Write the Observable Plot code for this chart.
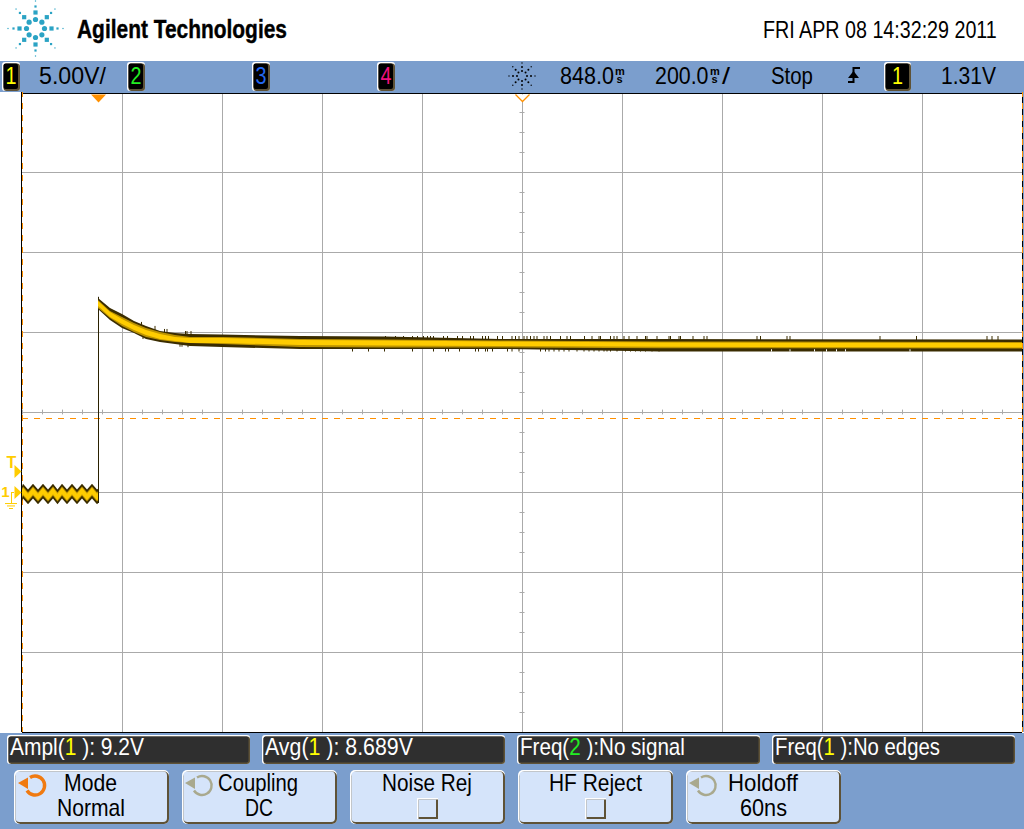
<!DOCTYPE html>
<html><head><meta charset="utf-8">
<script src="https://cdn.jsdelivr.net/npm/d3@7"></script>
<script src="https://cdn.jsdelivr.net/npm/@observablehq/plot@0.6"></script>
<style>
html,body{margin:0;padding:0;background:#fff;overflow:hidden}
svg{display:block}
</style></head><body>
<div id="head"></div><div id="plot"></div><div id="foot"></div>
<script>
// ---- scope settings (ms, V)
const timeDomain = [-152, 1848];
const voltDomain = [-15, 25];
const timeGrid = [-152, 48, 248, 448, 648, 848, 1048, 1248, 1448, 1648, 1848];
const voltGrid = [-15, -10, -5, 0, 5, 10, 15, 20, 25];
const triggerTime = 0, delayTime = 848, triggerLevel = 1.31, cursorLevel = 4.625;

// ---- trace envelope (ms, V)
const traceT    = [0, 24, 48, 72, 96, 124, 154, 184, 248, 404, 574, 804, 1124, 1848];
const darkHi    = [12.13, 11.5, 11.13, 10.69, 10.38, 10.06, 9.94, 9.88, 9.84, 9.75, 9.72, 9.56, 9.56, 9.53];
const darkLo    = [11.44, 10.75, 10.25, 9.94, 9.56, 9.38, 9.25, 9.13, 9.06, 8.94, 8.94, 8.94, 8.78, 8.78];
const goldHi    = [12.0, 11.31, 10.94, 10.56, 10.25, 10.0, 9.81, 9.69, 9.69, 9.56, 9.53, 9.47, 9.41, 9.38];
const goldLo    = [11.5, 10.88, 10.38, 10.0, 9.69, 9.5, 9.38, 9.31, 9.25, 9.06, 9.03, 9.03, 8.98, 8.97];
const brightHi  = [11.94, 11.25, 10.81, 10.44, 10.13, 9.88, 9.69, 9.63, 9.63, 9.5, 9.47, 9.41, 9.34, 9.31];
const brightLo  = [11.63, 10.94, 10.5, 10.13, 9.81, 9.56, 9.44, 9.31, 9.31, 9.19, 9.16, 9.13, 9.08, 9.03];

// ---- pre-trigger ripple
const rippleT = [-152,-150,-140,-130,-120,-110,-100,-90,-81,-72,-62,-52,-42,-32,-22,-12,-2,0];
const rippleV = [-0.1,0.06,-0.31,0.06,-0.31,0.06,-0.31,0.06,-0.31,0.06,-0.31,0.06,-0.31,0.06,-0.31,0.06,-0.31,-0.25];

// ---- glitches sticking out of the trace
const upperTicks = [340,574,594,610,628,638,650,658,664,670,690,698,718,728,744,750,768,774,780,798,808,
  827,834,841,851,857,864,871,877,891,897,904,924,937,944,972,987,1001,1004,1024,1031,1037,1051,1061,1077,1094,1097,1117,1141,1144,1161,1164,1189,1211,1217,1317,1324,
  1377,1383,1563,1636,1777,1787,1799];
const lowerTicks = [508,540,572,628,670,694,700,722,754,760,774,778,788,818,
  827,841,884,894,901,911,921,931,941,957,971,981,991,1001,1011,1017,1024,1037,1054,1064,1074,1084,1094,1107,1121];
const earlyT   = [86, 113, 132, 137, 174, 177, 185, 89, 163, 167, 179];
const earlyTop = [10.63, 10.38, 10.19, 10.19, 10.06, 10.06, 10.06, 9.7, 9.25, 9.25, 9.2];
const earlyBot = [10.3, 10.1, 9.9, 9.9, 9.8, 9.8, 9.8, 9.56, 9.08, 9.08, 9.05];
const lowerGaps = [1346,1383,1432,1456,1476,1494,1623];

// ---- labels
const dateText = "FRI APR 08 14:32:29 2011";
const brandText = "Agilent Technologies";
const channelChips = [["1","#ffff00",2],["2","#22ee22",127],["3","#2468f2",252],["4","#f0107f",377]];
const softKeys = [
  ["Mode","Normal",14,"dial-on"],["Coupling","DC",182,"dial"],["Noise Rej","",350,"box"],
  ["HF Reject","",518,"box"],["Holdoff","60ns",686,"dial"]];
const softKeySpans = {"Mode":[64,117],"Normal":[57,125],"Coupling":[218,298],"DC":[245,273],"Noise Rej":[382,472],"HF Reject":[549,642],"Holdoff":[728,798],"60ns":[740,787]};
const measures = [
  ["Ampl(","1","#ffff00"," ): 9.2V",7,10,144],
  ["Avg(","1","#ffff00"," ): 8.689V",262,265,413],
  ["Freq(","2","#22ee22"," ):No signal",517,520,685],
  ["Freq(","1","#ffff00"," ):No edges",772,775,940]];

// ---- colours
const blue="#7b9ecd", dark="#3a2c00", gold="#bd9400", bright="#ffcc00", orange="#ff9000", grid="#aaaaaa";
const olive="#5e5237", keyFill="#d5e4fa";
const FONT="'Liberation Sans',Arial,sans-serif";

const rows = traceT.map((t,i)=>({t,darkHi:darkHi[i],darkLo:darkLo[i],goldHi:goldHi[i],goldLo:goldLo[i],brightHi:brightHi[i],brightLo:brightLo[i]}));
const ripple = rippleT.map((t,i)=>({t,v:rippleV[i]}));
const early = earlyT.map((t,i)=>({t,a:earlyTop[i],b:earlyBot[i]}));
const k = v => () => v;

// marker shapes: the scope's own pointers
const pointerRight = {draw(c){c.moveTo(-7,-6.5);c.lineTo(0,0);c.lineTo(-7,6.5);c.closePath();}};
const pointerDown  = {draw(c){c.moveTo(-7.5,0);c.lineTo(0,8);c.lineTo(7.5,0);c.closePath();}};
const chevronDown  = {draw(c){c.moveTo(-7,0);c.lineTo(0,7);c.lineTo(7,0);}};

const chart = Plot.plot({
  width:1024, height:641,
  marginLeft:22, marginRight:2, marginTop:0, marginBottom:1,
  x:{domain:timeDomain, axis:null},
  y:{domain:voltDomain, axis:null},
  style:{background:"#fff", overflow:"visible", display:"block"},
  marks:[
    Plot.ruleX(timeGrid.slice(1,-1),{stroke:grid}),
    Plot.ruleY(voltGrid.slice(1,-1),{stroke:grid}),
    Plot.ruleX(d3.range(-152,1849,40),{y1:k(4.85),y2:k(5.15),stroke:grid}),
    Plot.ruleY(d3.range(-15,25.01,1.25),{x1:k(843),x2:k(853),stroke:grid}),
    // frame
    Plot.ruleX([timeDomain[0]],{stroke:"#000",dx:-1}),
    Plot.ruleX([timeDomain[1]],{stroke:"#000"}),
    Plot.ruleX([timeDomain[1]],{stroke:blue,dx:1}),
    Plot.ruleY([voltDomain[0]],{stroke:"#000"}),
    Plot.ruleY([voltDomain[1]],{stroke:blue}),
    Plot.ruleY([voltDomain[1]],{stroke:"#000",dy:1}),
    // cursors
    Plot.ruleX([timeDomain[0],timeDomain[1]],{stroke:orange,strokeDasharray:"6,6",strokeDashoffset:1}),
    Plot.ruleY([cursorLevel],{stroke:orange,strokeDasharray:"6,6"}),
    // step
    Plot.ruleX([triggerTime],{y1:k(-0.69),y2:k(12.2),stroke:"#2a2100"}),
    // trace
    Plot.ruleX(upperTicks,{y1:k(9.45),y2:k(9.75),stroke:dark}),
    Plot.ruleX(lowerTicks,{y1:k(8.78),y2:k(9.0),stroke:dark}),
    Plot.ruleX(early,{x:"t",y1:"a",y2:"b",stroke:dark}),
    Plot.areaY(rows,{x:"t",y1:"darkLo",y2:"darkHi",fill:dark}),
    Plot.ruleX(lowerGaps,{y1:k(8.78),y2:k(8.92),stroke:"#fff"}),
    Plot.areaY(rows,{x:"t",y1:"goldLo",y2:"goldHi",fill:gold}),
    Plot.areaY(rows,{x:"t",y1:"brightLo",y2:"brightHi",fill:bright}),
    // ripple
    Plot.areaY(ripple,{x:"t",y1:d=>d.v-0.46,y2:d=>d.v+0.46,fill:dark}),
    Plot.areaY(ripple,{x:"t",y1:d=>d.v-0.29,y2:d=>d.v+0.29,fill:gold}),
    Plot.areaY(ripple,{x:"t",y1:d=>d.v-0.2,y2:d=>d.v+0.2,fill:bright}),
    // markers
    Plot.dot([triggerTime],{x:d=>d,y:k(voltDomain[1]),symbol:pointerDown,fill:orange,dy:2}),
    Plot.dot([delayTime],{x:d=>d,y:k(voltDomain[1]),symbol:chevronDown,fill:"#fff",stroke:orange,strokeWidth:1.3,dy:2}),
    Plot.dot([triggerLevel],{x:k(timeDomain[0]),y:d=>d,symbol:pointerRight,fill:bright,dx:-1}),
    Plot.dot([0],{x:k(timeDomain[0]),y:d=>d,symbol:pointerRight,fill:bright,dx:-1}),
    Plot.text(["T"],{x:k(timeDomain[0]),y:k(triggerLevel),dx:-11,dy:-9,fill:bright,fontSize:16,fontWeight:"bold",fontFamily:FONT}),
    Plot.text(["1"],{x:k(timeDomain[0]),y:k(0),dx:-17,dy:0,fill:bright,fontSize:15,fontWeight:"bold",fontFamily:FONT}),
    // ground symbol
    Plot.ruleY([-0.69],{x1:k(-186),x2:k(-162),stroke:bright}),
    Plot.ruleY([-0.84],{x1:k(-182),x2:k(-166),stroke:bright}),
    Plot.ruleY([-1.0],{x1:k(-178),x2:k(-170),stroke:bright}),
    Plot.ruleX([-174],{y1:k(-0.69),y2:k(0),stroke:bright}),
    Plot.ruleY([0],{x1:k(-174),x2:k(-168),stroke:bright})
  ]
});
document.getElementById("plot").appendChild(chart);

// ---- instrument chrome around the plot
function fit(t,x0,x1,y){
  const natural=t.node().getComputedTextLength();
  t.attr("transform","translate("+x0+","+y+") scale("+((x1-x0)/natural)+",1)");
}
function text(g,parts,x0,x1,y,size,opts={}){
  const t=g.append("text").attr("font-size",size)
    .attr("font-family",FONT).attr("fill",opts.fill||"#000").attr("font-weight",opts.weight||"normal");
  if(opts.stroke) t.attr("stroke","#000").attr("stroke-width",opts.stroke);
  if(typeof parts==="string") t.text(parts);
  else parts.forEach(([s,c])=>{const p=t.append("tspan").text(s); if(c) p.attr("fill",c);});
  fit(t,x0,x1,y);
  return t;
}
function spark(g,cx,cy,radii,sizes,fill,square){
  for(let a=0;a<8;a++){
    const th=a*Math.PI/4;
    radii.forEach((r,i)=>{
      const x=cx+r*Math.sin(th), y=cy-r*Math.cos(th), s=sizes[i];
      if(i<square) g.append("circle").attr("cx",x).attr("cy",y).attr("r",s).attr("fill",fill);
      else g.append("rect").attr("x",x-s).attr("y",y-s).attr("width",2*s).attr("height",2*s).attr("fill",fill);
    });
  }
}
function chip(g,x,w,label,color){
  g.append("rect").attr("x",x).attr("y",62).attr("width",w).attr("height",29).attr("rx",3).attr("fill","#fff");
  g.append("rect").attr("x",x+1.5).attr("y",63.5).attr("width",w-1.5).attr("height",27.5).attr("rx",3).attr("fill",olive);
  g.append("rect").attr("x",x+1.5).attr("y",63.5).attr("width",w-3.5).attr("height",25.5).attr("rx",2).attr("fill","#000");
  text(g,label,x+w/2-5.5,x+w/2+5.5,84,24,{fill:color});
}
function msUnit(g,x){
  const t=g.append("text").attr("font-size",11).attr("font-weight","bold").attr("font-family",FONT)
    .attr("transform","translate("+x+",74.5)");
  t.append("tspan").attr("x",0).attr("y",0).text("m");
  t.append("tspan").attr("x",1.5).attr("y",8.5).text("s");
}
const head=d3.select("#head").append("svg").attr("width",1024).attr("height",92).attr("viewBox","0 0 1024 92");
head.append("rect").attr("width",1024).attr("height",92).attr("fill","#fff");
head.append("rect").attr("y",61).attr("width",1024).attr("height",31).attr("fill",blue);
spark(head,35.5,28.5,[9,16,22,27.5],[2.6,2.1,1.1,0.6],"#2ba3c4",1);
text(head,brandText,77,287,38,25,{weight:"bold",stroke:0.4});
text(head,dateText,763,997,38,24);
channelChips.forEach(([l,c,x])=>chip(head,x,18,l,c));
chip(head,884,27,"1","#ffff00");
text(head,"5.00V/",39,106,84,24);
spark(head,522,76,[5,9,13],[1,1,0.7],"#000",3);
text(head,"848.0",560,614,84,24);
msUnit(head,615);
text(head,"200.0",655,708.5,84,24);
msUnit(head,710);
text(head,"/",722,730,84,24);
text(head,"Stop",771,813,84,24);
head.append("path").attr("d","M848 82H853.5V68H860").attr("fill","none").attr("stroke","#000").attr("stroke-width",2);
head.append("path").attr("d","M848 78L853.5 71L859 78Z").attr("fill","#000");
text(head,"1.31V",941,996,84,24);

const foot=d3.select("#foot").append("svg").attr("width",1024).attr("height",96).attr("viewBox","0 733 1024 96");
foot.append("rect").attr("y",733).attr("width",1024).attr("height",96).attr("fill",blue);
measures.forEach(([a,n,c,b,bx,x0,x1])=>{
  foot.append("rect").attr("x",bx).attr("y",735).attr("width",243).attr("height",29).attr("rx",3).attr("fill","#fff");
  foot.append("rect").attr("x",bx+1.5).attr("y",736.5).attr("width",241.5).attr("height",27.5).attr("rx",3).attr("fill",olive);
  foot.append("rect").attr("x",bx+1.5).attr("y",736.5).attr("width",240).attr("height",26).attr("rx",2).attr("fill","#2f2f2f");
  text(foot,[[a],[n,c],[b]],x0,x1,755,24,{fill:"#fff"});
});
function dial(g,cx,cy,color,sw){
  g.append("path").attr("d","M"+(cx-5)+" "+(cy-8)+"A9.5 9.5 0 1 1 "+(cx-8)+" "+(cy+5)).attr("fill","none").attr("stroke",color).attr("stroke-width",sw);
  g.append("path").attr("d","M"+(cx-17)+" "+(cy-2.5)+"L"+(cx-7)+" "+(cy-8)+"L"+(cx-7)+" "+(cy+3.5)+"Z").attr("fill",color);
}
softKeys.forEach(([l1,l2,x,kind])=>{
  foot.append("rect").attr("x",x).attr("y",770).attr("width",155).attr("height",54).attr("rx",5).attr("fill","#fff");
  foot.append("rect").attr("x",x+1.5).attr("y",771.5).attr("width",153.5).attr("height",52.5).attr("rx",5).attr("fill",olive);
  foot.append("rect").attr("x",x+1.5).attr("y",771.5).attr("width",151.5).attr("height",50.5).attr("rx",4).attr("fill",keyFill);
  const s1=softKeySpans[l1]; text(foot,l1,s1[0],s1[1],791,24);
  if(l2){const s2=softKeySpans[l2]; text(foot,l2,s2[0],s2[1],816,24);}
  if(kind==="box"){
    foot.append("rect").attr("x",x+67).attr("y",798).attr("width",21).attr("height",21).attr("fill","#fff");
    foot.append("rect").attr("x",x+68.5).attr("y",799.5).attr("width",19.5).attr("height",19.5).attr("fill",olive);
    foot.append("rect").attr("x",x+68.5).attr("y",799.5).attr("width",17.5).attr("height",17.5).attr("fill",keyFill);
  }
  if(kind==="dial-on") dial(foot,x+21,785.5,"#f07a10",3.4);
  if(kind==="dial") dial(foot,x+20,785.5,"#a9a98e",2.4);
});
</script>
</body></html>
